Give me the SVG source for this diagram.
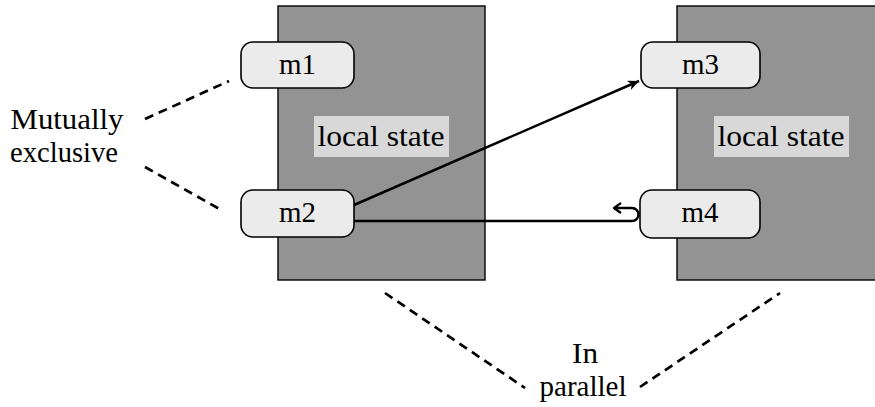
<svg xmlns="http://www.w3.org/2000/svg" width="875" height="407" viewBox="0 0 875 407">
<defs>
<style>
text{font-family:"Liberation Serif","Times New Roman",Tinos,Times,"DejaVu Serif","Noto Serif",FreeSerif,serif;font-size:29px;fill:#000}
.proc{fill:#939393;stroke:#000;stroke-width:1.4}
.lbg{fill:#d8d8d8}
.msg{fill:#ebebeb;stroke:#000;stroke-width:1.6}
.dash{fill:none;stroke:#000;stroke-width:2.7;stroke-dasharray:9 6}
.arr{fill:none;stroke:#000;stroke-width:2.5}
</style>
<marker id="head" viewBox="-12 -6 13 12" refX="0" refY="0" markerWidth="13" markerHeight="12" markerUnits="userSpaceOnUse" orient="auto">
<path d="M -11 -5 L 0 0 L -11 5 L -8 0 Z" fill="#000"/>
</marker>
<marker id="hookhead" viewBox="-10 -6 11 12" refX="0" refY="0" markerWidth="11" markerHeight="12" markerUnits="userSpaceOnUse" orient="auto">
<path d="M -7 -5 Q -2 -1.5 0 0 Q -2 1.5 -7 5" fill="none" stroke="#000" stroke-width="2.2"/>
</marker>
</defs>
<g id="process-left">
<rect class="proc" x="278" y="6" width="207" height="274"/>
<rect class="lbg" x="314" y="116" width="135" height="41"/>
<text x="381" y="146" text-anchor="middle" textLength="127" lengthAdjust="spacingAndGlyphs">local state</text>
</g>
<g id="process-right">
<rect class="proc" x="677" y="6" width="200" height="274"/>
<rect class="lbg" x="714" y="116" width="135" height="41"/>
<text x="781" y="146" text-anchor="middle" textLength="127" lengthAdjust="spacingAndGlyphs">local state</text>
</g>
<g id="connectors">
<path class="arr" d="M 354 205 L 639 81" marker-end="url(#head)"/>
<path class="arr" d="M 354 221 H 632 A 6.5 6.5 0 0 0 632 208 H 614" marker-end="url(#hookhead)"/>
<path class="dash" d="M 145 119 L 229 81"/>
<path class="dash" d="M 145 167 L 223 211"/>
<path class="dash" d="M 385 293 L 525 388"/>
<path class="dash" d="M 640 387 L 780 293"/>
</g>
<g id="m1">
<rect class="msg" x="241" y="42" width="113" height="46" rx="12"/>
<text x="297.5" y="74" text-anchor="middle">m1</text>
</g>
<g id="m2">
<rect class="msg" x="241" y="190" width="113" height="47" rx="12"/>
<text x="297.5" y="222" text-anchor="middle">m2</text>
</g>
<g id="m3">
<rect class="msg" x="641" y="42" width="119" height="46" rx="12"/>
<text x="700.5" y="74" text-anchor="middle">m3</text>
</g>
<g id="m4">
<rect class="msg" x="640" y="190" width="120" height="48" rx="12"/>
<text x="700" y="222" text-anchor="middle">m4</text>
</g>
<g id="label-mutex">
<text x="67" y="129" text-anchor="middle" textLength="113" lengthAdjust="spacingAndGlyphs">Mutually</text>
<text x="64" y="162" text-anchor="middle" textLength="108" lengthAdjust="spacingAndGlyphs">exclusive</text>
</g>
<g id="label-parallel">
<text x="585" y="363" text-anchor="middle" textLength="26" lengthAdjust="spacingAndGlyphs">In</text>
<text x="583" y="396" text-anchor="middle" textLength="87" lengthAdjust="spacingAndGlyphs">parallel</text>
</g>
</svg>
